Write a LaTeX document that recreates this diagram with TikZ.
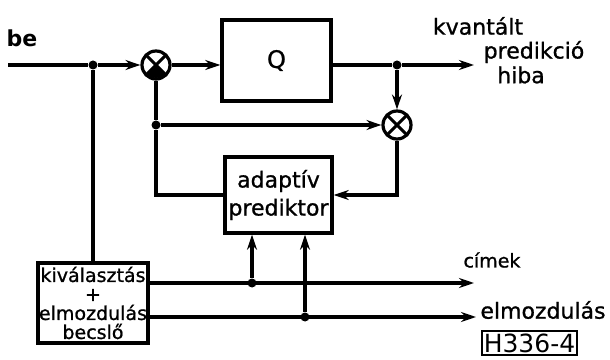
\documentclass[tikz,border=0pt]{standalone}
\usepackage{fontspec}
\setmainfont{DejaVu Sans}
\newfontfamily\markerfont[FakeBold=1.0]{DejaVu Sans}
\usetikzlibrary{arrows.meta}
\begin{document}
\begin{tikzpicture}[x=1pt,y=1pt,
  wire/.style={draw, line width=3.2pt},
  flow/.style={wire, -{Stealth[length=15pt,width=10pt]}},
  block/.style={draw, line width=3.4pt, rectangle, inner sep=0pt},
  junction/.style={circle, fill, inner sep=0pt, minimum size=9pt},
  mixer/.style={circle, draw, line width=3.2pt, minimum size=28pt, inner sep=0pt,
    path picture={\draw[line width=3pt]
      (path picture bounding box.north west) -- (path picture bounding box.south east)
      (path picture bounding box.north east) -- (path picture bounding box.south west);}},
  hand/.style={inner sep=0pt, font=\markerfont\fontsize{22}{26}\selectfont},
]
\useasboundingbox (0,0) rectangle (610,359);

% signal path
\coordinate (in) at (8,294);
\node[junction] (d1) at (93,294) {};
\node[mixer] (s1) at (156,294) {};
\fill (s1.center) -- ++(225:13) arc[start angle=225, end angle=315, radius=13] -- cycle;
\node[block, minimum width=109pt, minimum height=81pt] (Q) at (276.5,298.5)
  {\markerfont\fontsize{24}{24}\selectfont Q};
\node[junction] (d2) at (397,294) {};
\coordinate (out) at (474,294);
\node[mixer] (s2) at (397,234) {};
\node[junction] (d3) at (156,234) {};
\node[block, minimum width=107pt, minimum height=76pt, align=center,
  font=\markerfont\fontsize{22}{28}\selectfont] (ap) at (278.5,164) {adaptív\\prediktor};
\node[block, minimum width=110pt, minimum height=80pt, align=center,
  font=\markerfont\fontsize{19}{19}\selectfont] (sel) at (93,56)
  {kiválasztás\\+\\elmozdulás\\becslő};
\coordinate (c1) at (474,76);
\coordinate (c2) at (476,42);
\node[junction] (d4) at (252,76) {};
\node[junction] (d5) at (305,42) {};

% connections
\draw[wire] (in) -- (d1);
\draw[flow] (d1) -- (s1);
\draw[flow] (s1) -- (s1 -| Q.west);
\draw[wire] (Q.east |- d2) -- (d2);
\draw[flow] (d2) -- (out);
\draw[flow] (d2) -- (s2);
\draw[wire] (s1) -- (d3);
\draw[flow] (d3) -- (s2);
\draw[wire] (d3) -- (d3 |- ap.west) -- (ap.west);
\draw[flow] (s2) -- (s2 |- ap.east) -- (ap.east);
\draw[wire] (d1) -- (sel);
\draw[flow] (sel.east |- c1) -- (c1);
\draw[flow] (sel.east |- c2) -- (c2);
\draw[flow] (d4) -- (d4 |- ap.south);
\draw[flow] (d5) -- (d5 |- ap.south);

% labels
\node[inner sep=0pt, font=\fontsize{22}{22}\selectfont\bfseries] (lbe) at (22,321) {be};
\node[hand] (lk) at (478,333) {kvantált};
\node[hand] (lp) at (534,307) {predikció};
\node[hand] (lh) at (521,284) {hiba};
\node[inner sep=0pt, font=\markerfont\fontsize{19}{19}\selectfont] (lc) at (492,99) {címek};
\node[hand] (le) at (543,49) {elmozdulás};
\node[draw, line width=2pt, minimum width=95pt, minimum height=24pt, inner sep=0pt,
  font=\fontsize{25}{25}\selectfont] (tag) at (529.5,16) {H336-4};
\end{tikzpicture}
\end{document}
